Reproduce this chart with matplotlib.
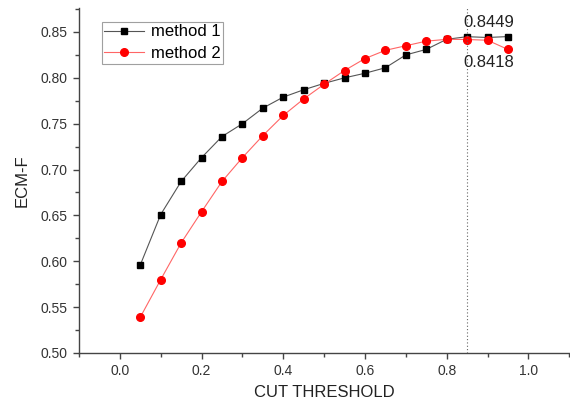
import numpy as np
import matplotlib.pyplot as plt
from matplotlib.ticker import MultipleLocator

plt.rcParams['font.family'] = ['Liberation Sans', 'DejaVu Sans']

# data
thr = [0.05, 0.10, 0.15, 0.20, 0.25, 0.30, 0.35, 0.40, 0.45, 0.50,
       0.55, 0.60, 0.65, 0.70, 0.75, 0.80, 0.85, 0.90, 0.95]
m1 = [0.596, 0.651, 0.687, 0.713, 0.736, 0.750, 0.767, 0.779, 0.787, 0.794,
      0.800, 0.805, 0.811, 0.825, 0.831, 0.842, 0.8449, 0.844, 0.845]
m2 = [0.539, 0.580, 0.620, 0.654, 0.687, 0.713, 0.737, 0.759, 0.777, 0.793,
      0.808, 0.821, 0.830, 0.835, 0.840, 0.842, 0.8418, 0.841, 0.831]
cut = 0.85

fig = plt.figure(figsize=(5.7, 4.07), dpi=100)
ax = fig.add_axes([0.1386, 0.1327, 0.86, 0.8473])

ax.plot(thr, m1, color='#555555', lw=0.8, marker='s', ms=5,
        mfc='black', mec='black', label='method 1')
ax.plot(thr, m2, color='#ff6666', lw=0.8, marker='o', ms=5.5,
        mfc='red', mec='red', label='method 2')
ax.axvline(cut, color='#666666', lw=0.8, ls=(0, (1, 2)))

ax.text(0.841, 0.860, '0.8449', fontsize=12, va='center', ha='left', color='#222222')
ax.text(0.841, 0.8166, '0.8418', fontsize=12, va='center', ha='left', color='#222222')

ax.set_xlim(-0.1, 1.1)
ax.set_ylim(0.5, 0.876)
ax.xaxis.set_major_locator(MultipleLocator(0.2))
ax.xaxis.set_minor_locator(MultipleLocator(0.1))
ax.yaxis.set_major_locator(MultipleLocator(0.05))
ax.yaxis.set_minor_locator(MultipleLocator(0.025))
ax.xaxis.set_major_formatter(plt.FormatStrFormatter('%.1f'))
ax.yaxis.set_major_formatter(plt.FormatStrFormatter('%.2f'))

for s in ['top', 'right']:
    ax.spines[s].set_visible(False)
for s in ['left', 'bottom']:
    ax.spines[s].set_color('#444444')
    ax.spines[s].set_linewidth(1.0)
ax.tick_params(which='major', length=4.5, width=1, color='#444444', labelsize=10, labelcolor='#333333')
ax.tick_params(which='minor', length=3, width=1, color='#444444')

ax.set_xlabel('CUT THRESHOLD', fontsize=12, color='#222222', labelpad=5)
ax.set_ylabel('ECM-F', fontsize=12, color='#222222', labelpad=8)

leg = ax.legend(loc='upper left', bbox_to_anchor=(0.046, 0.96), fontsize=12,
                frameon=True, fancybox=False, borderpad=0.15, labelspacing=0.4,
                handlelength=2.4, handletextpad=0.4, borderaxespad=0)
leg.get_frame().set_edgecolor('#888888')
leg.get_frame().set_linewidth(0.8)

fig.savefig('out.png', dpi=100)
